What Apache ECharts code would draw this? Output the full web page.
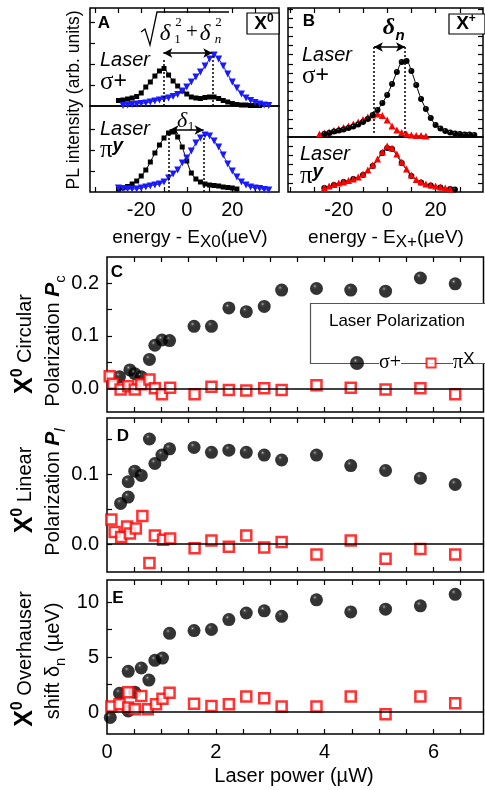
<!DOCTYPE html>
<html>
<head>
<meta charset="utf-8">
<script src="https://cdn.jsdelivr.net/npm/echarts@6.0.0/dist/echarts.min.js"></script>
<style>
  html, body { margin: 0; padding: 0; background: #fff; }
  #main { width: 485px; height: 790px; }
</style>
</head>
<body>
<div id="main"></div>
<script>
// ---- panel A : X0 spectra (arb. units) ----
const aSigX = [-30,-28,-26,-24,-22,-20,-18,-16,-14,-12,-10,-8,-6,-4,-2,0,2,4,6,8,10,12,14,16,18,20,22,24,26,28,30,32]
const aSigBlack = [5.5,6,7,8,9.5,13,19,24,30,35,37.5,31,25,20,15,12,9,8,7.5,8.5,9,9,7.5,5.5,4,2.5,1.5,1,1,0.5,0.5,0.5]
const aSigBlueX = [-28,-26,-24,-22,-20,-18,-16,-14,-12,-10,-8,-6,-4,-2,0,2,4,6,8,10,12,14,16,18,20,22,24,26,28,30,32,34,36]
const aSigBlue = [0.5,1,1.5,2,2.5,3,4,5,6,7,8,9.5,11.5,15,19,24,29,34,40,47,51,47,40,32,24,18,12,8,5.5,3.5,2,1,0.5]
const aPiX = [-30,-28,-26,-24,-22,-20,-18,-16,-14,-12,-10,-8,-6,-4,-2,0,2,4,6,8,10,12,14,16,18,20,22]
const aPiBlack = [3,4,5.5,8,11,16,22,30,39,47,54,59,60,55,45,31,19,13,10,8,7,6.5,6,5,4.5,4,3]
const aPiBlueX = [-30,-28,-26,-24,-22,-20,-18,-16,-14,-12,-10,-8,-6,-4,-2,0,2,4,6,8,10,12,14,16,18,20,22,24,26,28,30,32,34,36]
const aPiBlue = [4,3.5,3,3,3,4,5,6,7,8,10,14,18,22,29,34,41,49,54,57,56,51,45,37,28,21,15,10,7,5,4,3.5,2.5,2]

// ---- panel B : X+ spectra ----
const bSigX = [-26,-24,-22,-20,-18,-16,-14,-12,-10,-8,-6,-4,-2,0,2,4,6,8,10,12,14,16,18,20,22,24,26,28,30,32,34,36]
const bSigBlack = [3,4,5.5,6.5,7.5,9,10.5,12.5,15,18,22,27,34,42,53,65,75,76,66,52,38,28,19,12,8.5,6,4.5,3.5,3,2.5,2.5,2]
const bSigRedX = [-28,-26,-24,-22,-20,-18,-16,-14,-12,-10,-8,-6,-4,-2,0,2,4,6,8,10,12,14,16]
const bSigRed = [3,4,5,6.5,8,9.5,11,13,15,17.5,20,22,23,21.5,17,11,7,4.5,3,2,1.5,1.5,1]
const bPiX = [-26,-24,-22,-20,-18,-16,-14,-12,-10,-8,-6,-4,-2,0,2,4,6,8,10,12,14,16,18,20,22,24,26]
const bPiRed = [4,6,7.5,9,10,11.5,13,15,18,22,27,33,40,46,44,38,30,23,17,12.5,10,8,7,6,5,4,3]
const bPiBlackX = [-26,-22,-18,-14,-10,-6,-2,0,2,6,10,14,18,22,26,28]
const bPiBlack = [4,7,10,13,17,26,39,44,43,29,16,9.5,6.5,4.5,3,2.5]

// ---- panels C, D, E : vs laser power (uW) ----
const sigPowC = [0.23,0.42,0.51,0.63,0.78,0.88,1.01,1.15,1.6,1.92,2.24,2.56,2.89,3.21,3.85,4.48,5.12,5.76,6.4]
const sigPc = [0.022,0.035,0.028,0.022,0.055,0.082,0.092,0.091,0.118,0.118,0.153,0.146,0.156,0.187,0.19,0.187,0.185,0.21,0.199]
const piPowC = [0.05,0.11,0.25,0.39,0.51,0.63,0.78,0.88,1.01,1.16,1.61,1.92,2.24,2.56,2.89,3.21,3.85,4.48,5.12,5.76,6.4]
const piPc = [0.023,0.009,-0.002,0.004,-0.002,0.008,0.017,0.0,-0.011,0.001,-0.011,0.003,-0.003,-0.004,0.0,-0.003,0.006,0.001,-0.002,0.0,-0.011]

const sigPowD = [0.25,0.39,0.39,0.51,0.63,0.78,0.88,1.01,1.15,1.6,1.92,2.24,2.56,2.89,3.21,3.85,4.48,5.12,5.76,6.4]
const sigPl = [0.058,0.067,0.089,0.104,0.098,0.150,0.115,0.127,0.136,0.138,0.131,0.134,0.131,0.127,0.120,0.127,0.112,0.105,0.094,0.085]
const piPowD = [0.08,0.14,0.26,0.37,0.42,0.53,0.65,0.78,0.88,1.03,1.16,1.61,1.92,2.24,2.56,2.89,3.21,3.85,4.48,5.12,5.76,6.4]
const piPl = [0.035,0.017,0.010,0.025,0.015,0.022,0.040,-0.027,0.012,0.006,0.008,-0.006,0.005,-0.004,0.012,-0.005,0.003,-0.015,0.005,-0.021,-0.007,-0.015]

const sigPowE = [0.06,0.23,0.39,0.39,0.51,0.63,0.77,0.88,1.02,1.15,1.6,1.92,2.24,2.56,2.89,3.21,3.85,4.48,5.12,5.76,6.4]
const sigShift = [-0.5,1.7,0.1,3.7,1.8,4.0,2.9,4.7,4.9,7.15,7.4,7.5,8.4,9.0,9.2,8.7,10.2,9.1,9.35,9.65,10.7]
const piPowE = [0.08,0.23,0.39,0.39,0.51,0.63,0.75,0.9,1.02,1.15,1.6,1.92,2.24,2.56,2.89,3.21,3.85,4.48,5.12,5.76,6.4]
const piShift = [0.5,0.7,1.8,0.4,0.25,1.45,0.25,0.7,1.2,1.75,0.75,0.55,0.7,1.4,1.25,0.5,0.5,1.4,-0.2,1.4,0.8]

// tick positions / labels
const specTicks = [-40,-30,-20,-10,0,10,20,30]
const specLabels = [-20,0,20]
const powTicks = [0.5,1,1.5,2,2.5,3,3.5,4,4.5,5,5.5,6,6.5]
const powLabels = [0,2,4,6]
const pcTicks = [0,0.05,0.1,0.15,0.2]
const pcLabels = [0,0.1,0.2]
const plTicks = [0,0.05,0.1,0.15]
const plLabels = [0,0.1]
const shTicks = [0,2.5,5,7.5,10]
const shLabels = [0,5,10]

const SANS = "'Liberation Sans', Arial, sans-serif"
const SERIF = "'Liberation Serif', 'Times New Roman', serif"
const BLUE = '#1a1aff'
const RED = '#ff0000'

// glossy black ball
const sphere = {
  type: 'radial', x: 0.38, y: 0.32, r: 0.6,
  colorStops: [
    { offset: 0, color: '#d8d8d8' },
    { offset: 0.08, color: '#5a5a5a' },
    { offset: 0.22, color: '#111' },
    { offset: 0.45, color: '#000' },
    { offset: 1, color: '#000' }
  ]
}

// grid boxes (px)
const grids = [
  { left: 90, top: 8, width: 189, height: 98 },     // A upper
  { left: 90, top: 106, width: 189, height: 86 },   // A lower
  { left: 288, top: 8, width: 195, height: 129 },   // B upper
  { left: 288, top: 137, width: 195, height: 55 },  // B lower
  { left: 107, top: 257, width: 376.5, height: 155 }, // C
  { left: 107, top: 418, width: 376.5, height: 154 }, // D
  { left: 107, top: 580, width: 376.5, height: 154 }  // E
].map(g => Object.assign({ show: true, borderColor: '#000', borderWidth: 1.5, backgroundColor: 'transparent' }, g))

function ax(gi, min, max, pos, ticks, labels, fmt) {
  return {
    type: 'value', gridIndex: gi, min: min, max: max, position: pos,
    axisLine: { show: false, onZero: false }, splitLine: { show: false },
    axisTick: { show: true, inside: true, length: 5, customValues: ticks, lineStyle: { color: '#000', width: 1.2 } },
    axisLabel: labels ? {
      show: true, customValues: labels, margin: 8, fontSize: 20, color: '#000', fontFamily: SANS,
      formatter: fmt || (v => String(v))
    } : { show: false }
  }
}

const bUpTicks = [9,18,27,37,46,55,64,73,83,92,101,110,119,128]
const bLoTicks = [9,18,28,37,46]

const xAxes = [
  ax(0, -42.5, 40.5, 'top', specTicks),
  ax(1, -42.5, 40.5, 'bottom', specTicks, specLabels),
  ax(2, -41, 39.6, 'top', specTicks),
  ax(3, -41, 39.6, 'bottom', specTicks, specLabels),
  ax(4, 0, 6.92, 'bottom', powTicks),
  ax(5, 0, 6.92, 'bottom', powTicks),
  ax(6, 0, 6.92, 'bottom', powTicks, powLabels),
  ax(4, 0, 6.92, 'top', powTicks),
  ax(5, 0, 6.92, 'top', powTicks),
  ax(6, 0, 6.92, 'top', powTicks)
]
const yAxes = [
  ax(0, 0, 98, 'left', [21,42,63,84]),
  ax(1, 0, 86, 'left', [21,42,63]),
  ax(2, 0, 129, 'left', bUpTicks),
  ax(3, 0, 55, 'left', bLoTicks),
  ax(4, -0.045, 0.25, 'left', pcTicks, pcLabels, v => v.toFixed(1)),
  ax(5, -0.04, 0.18, 'left', plTicks, plLabels, v => v.toFixed(1)),
  ax(6, -2, 12, 'left', shTicks, shLabels),
  ax(2, 0, 129, 'right', bUpTicks),
  ax(3, 0, 55, 'right', bLoTicks)
]

const zip = (xs, ys) => xs.map((x, i) => [x, ys[i]])

function spec(gi, xs, ys, symbol, size, color, opts) {
  return Object.assign({
    type: 'line', xAxisIndex: gi, yAxisIndex: gi, data: zip(xs, ys),
    symbol: symbol, symbolSize: size, smooth: 0.3, silent: true, animation: false,
    lineStyle: { color: color === sphere ? '#000' : color, width: 1 },
    itemStyle: { color: color }
  }, opts || {})
}

const dotted = { type: [2, 2], color: '#000', width: 1.5 }
function guides(lines, arrow) {
  return {
    silent: true, symbol: 'none', label: { show: false }, animation: false,
    lineStyle: dotted,
    data: lines.map(l => [{ coord: [l[0], l[1]] }, { coord: [l[0], l[2]] }]).concat([[
      { coord: [arrow[0], arrow[2]], symbol: 'arrow', symbolSize: [7, 9], lineStyle: { type: 'solid', width: 1.5, color: '#000' } },
      { coord: [arrow[1], arrow[2]], symbol: 'arrow', symbolSize: [7, 9] }
    ]])
  }
}

function pts(gi, xs, ys, isSphere) {
  return {
    type: 'scatter', name: isSphere ? 'σ+' : 'πX', xAxisIndex: gi, yAxisIndex: gi,
    data: zip(xs, ys), animation: false,
    symbol: isSphere ? 'circle' : 'rect',
    symbolSize: isSphere ? 13 : 10,
    itemStyle: isSphere ? { color: sphere } : { color: '#fff', borderColor: RED, borderWidth: 2.5 },
    z: isSphere ? 3 : 4
  }
}
function zeroLine() {
  return { silent: true, symbol: 'none', label: { show: false }, animation: false,
    lineStyle: { type: 'solid', color: '#000', width: 1.6 }, data: [{ yAxis: 0 }] }
}

const series = [
  spec(0, aSigX, aSigBlack, 'rect', 5, '#000', { markLine: guides([[-10.3, 0, 48], [11.2, 0, 51]], [-10.3, 11.2, 53]) }),
  spec(0, aSigBlueX, aSigBlue, 'triangle', 7, BLUE, { symbolRotate: 180 }),
  spec(1, aPiX, aPiBlack, 'rect', 5, '#000', { markLine: guides([[-7.8, 0, 59], [7.6, 0, 57]], [-7.6, 7.4, 62]) }),
  spec(1, aPiBlueX, aPiBlue, 'triangle', 7, BLUE, { symbolRotate: 180 }),
  spec(2, bSigRedX, bSigRed, 'triangle', 7, RED),
  spec(2, bSigX, bSigBlack, 'circle', 6, sphere, { markLine: guides([[-5.5, 4, 90], [7.4, 4, 90]], [-5.5, 7.4, 90]) }),
  spec(3, bPiBlackX, bPiBlack, 'circle', 6, sphere),
  spec(3, bPiX, bPiRed, 'triangle', 7, RED),
  pts(4, sigPowC, sigPc, true),
  Object.assign(pts(4, piPowC, piPc, false), { markLine: zeroLine() }),
  pts(5, sigPowD, sigPl, true),
  Object.assign(pts(5, piPowD, piPl, false), { markLine: zeroLine() }),
  pts(6, sigPowE, sigShift, true),
  Object.assign(pts(6, piPowE, piShift, false), { markLine: zeroLine() })
]

function txt(x, y, text, style, rot) {
  return {
    type: 'text', x: x, y: y, rotation: rot || 0, z: 100, silent: true,
    style: Object.assign({
      text: text, fill: '#000', textAlign: 'center', textVerticalAlign: 'middle',
      align: 'center', verticalAlign: 'middle',
      fontSize: 20, fontFamily: SANS
    }, style || {})
  }
}

const R = Math.PI / 2
const supRich = {
  X: { fontSize: 25, fontWeight: 'bold', fontFamily: SANS, lineHeight: 30, verticalAlign: 'middle' },
  s: { fontSize: 16, fontWeight: 'bold', fontFamily: SANS, lineHeight: 16, verticalAlign: 'top' },
  n: { fontSize: 20, fontFamily: SANS, lineHeight: 30, verticalAlign: 'middle' },
  P: { fontSize: 21, fontWeight: 'bold', fontStyle: 'italic', fontFamily: SANS, lineHeight: 30, verticalAlign: 'middle' },
  sub: { fontSize: 15, fontFamily: SANS, lineHeight: 15, verticalAlign: 'bottom' },
  subi: { fontSize: 15, fontStyle: 'italic', fontFamily: SANS, lineHeight: 15, verticalAlign: 'bottom' },
  d: { fontSize: 20, fontFamily: SANS, lineHeight: 30, verticalAlign: 'middle' }
}

const laserRich = {
  s: { fontSize: 25, fontFamily: SERIF, lineHeight: 28 },
  p: { fontSize: 23, fontFamily: SANS, lineHeight: 28 },
  y: { fontSize: 19, fontFamily: SANS, fontWeight: 'bold', fontStyle: 'italic', lineHeight: 19, verticalAlign: 'top' }
}

const graphic = [
  // legend box of panel C
  { type: 'rect', z: 50, silent: true, shape: { x: 310.5, y: 303.5, width: 180, height: 60 }, style: { fill: '#fff', stroke: '#555', lineWidth: 1.2 } },
  txt(397, 321, 'Laser Polarization', { fontSize: 17 }),

  // y titles
  txt(74, 100, 'PL intensity (arb. units)', { fontSize: 17.5 }, R),
  txt(25, 344, '{X|X}{s|0}{n| Circular}', { rich: supRich }, R),
  txt(53, 341, '{n|Polarization }{P|P}{sub|c}', { rich: supRich }, R),
  txt(25, 490, '{X|X}{s|0}{n| Linear}', { rich: supRich }, R),
  txt(53, 492, '{n|Polarization }{P|P}{subi|l}', { rich: supRich }, R),
  txt(25, 659, '{X|X}{s|0}{n| Overhauser}', { rich: supRich }, R),
  txt(53, 661, '{n|shift δ}{sub|n}{d| (µeV)}', { rich: supRich }, R),

  // x titles
  txt(190, 238, '{n|energy - E}{sub|X0}{n|(µeV)}', { rich: { n: { fontSize: 19, fontFamily: SANS, lineHeight: 26 }, sub: { fontSize: 17, fontFamily: SANS, lineHeight: 17, verticalAlign: 'bottom' } } }),
  txt(386, 238, '{n|energy - E}{sub|X+}{n|(µeV)}', { rich: { n: { fontSize: 19, fontFamily: SANS, lineHeight: 26 }, sub: { fontSize: 17, fontFamily: SANS, lineHeight: 17, verticalAlign: 'bottom' } } }),
  txt(294, 776, 'Laser power (µW)', { fontSize: 20 }),

  // panel letters
  txt(104, 23, 'A', { fontSize: 17, fontWeight: 'bold' }),
  txt(309, 21, 'B', { fontSize: 17, fontWeight: 'bold' }),
  txt(117, 272, 'C', { fontSize: 17, fontWeight: 'bold' }),
  txt(123, 436, 'D', { fontSize: 17, fontWeight: 'bold' }),
  txt(118, 598, 'E', { fontSize: 17, fontWeight: 'bold' }),

  // exciton boxes
  { type: 'rect', z: 90, silent: true, shape: { x: 247, y: 13, width: 32, height: 21 }, style: { fill: '#fff', stroke: '#000', lineWidth: 1.2 } },
  txt(264, 24, '{X|X}{s|0}', { rich: { X: { fontSize: 19, fontWeight: 'bold', fontFamily: SANS, lineHeight: 22 }, s: { fontSize: 12, fontWeight: 'bold', fontFamily: SANS, lineHeight: 12, verticalAlign: 'top' } } }),
  { type: 'rect', z: 90, silent: true, shape: { x: 449, y: 14, width: 36, height: 20 }, style: { fill: '#fff', stroke: '#000', lineWidth: 1.2 } },
  txt(466, 24, '{X|X}{s|+}', { rich: { X: { fontSize: 19, fontWeight: 'bold', fontFamily: SANS, lineHeight: 22 }, s: { fontSize: 12, fontWeight: 'bold', fontFamily: SANS, lineHeight: 12, verticalAlign: 'top' } } }),

  // Laser σ+ / π^y labels
  txt(100, 60, 'Laser', { fontSize: 20, fontStyle: 'italic', textAlign: 'left', align: 'left' }),
  txt(100, 82, '{s|σ}{p|+}', { rich: laserRich, textAlign: 'left', align: 'left' }),
  txt(100, 129, 'Laser', { fontSize: 20, fontStyle: 'italic', textAlign: 'left', align: 'left' }),
  txt(100, 150, '{s|π}{y|y}', { rich: laserRich, textAlign: 'left', align: 'left' }),
  txt(302, 55, 'Laser', { fontSize: 20, fontStyle: 'italic', textAlign: 'left', align: 'left' }),
  txt(302, 76, '{s|σ}{p|+}', { rich: laserRich, textAlign: 'left', align: 'left' }),
  txt(300, 154, 'Laser', { fontSize: 20, fontStyle: 'italic', textAlign: 'left', align: 'left' }),
  txt(300, 176, '{s|π}{y|y}', { rich: laserRich, textAlign: 'left', align: 'left' }),

  // sqrt(δ1² + δn²)
  { type: 'polyline', z: 100, silent: true, shape: { points: [[141, 32], [145, 29], [150, 45], [157, 12], [229, 12]] }, style: { stroke: '#000', lineWidth: 1.3, fill: null } },
  txt(165, 34, 'δ', { fontSize: 23, fontStyle: 'italic', fontFamily: SERIF }),
  txt(178.5, 23, '2', { fontSize: 13, fontFamily: SERIF }),
  txt(177.5, 40, '1', { fontSize: 13, fontFamily: SERIF }),
  txt(192, 32, '+', { fontSize: 21, fontFamily: SERIF }),
  txt(205, 34, 'δ', { fontSize: 23, fontStyle: 'italic', fontFamily: SERIF }),
  txt(218.5, 23, '2', { fontSize: 13, fontFamily: SERIF }),
  txt(218, 40, 'n', { fontSize: 13, fontStyle: 'italic', fontFamily: SERIF }),
  // δ1 label
  txt(182, 121, 'δ', { fontSize: 22, fontStyle: 'italic', fontFamily: SERIF }),
  txt(191, 127, '1', { fontSize: 13, fontFamily: SERIF }),
  // δn label
  txt(389, 28, 'δ', { fontSize: 24, fontStyle: 'italic', fontWeight: 'bold', fontFamily: SERIF }),
  txt(400, 36, 'n', { fontSize: 15, fontStyle: 'italic', fontWeight: 'bold', fontFamily: SANS })
]

const option = {
  backgroundColor: '#fff',
  animation: false,
  grid: grids,
  xAxis: xAxes,
  yAxis: yAxes,
  legend: {
    left: 345, top: 346, itemWidth: 14, itemHeight: 14, itemGap: 22, z: 60,
    selectedMode: false,
    data: [
      { name: 'σ+', icon: 'circle' },
      { name: 'πX', icon: 'path://M0,0M14,14M2.5,2.5L11.5,2.5L11.5,11.5L2.5,11.5Z' }
    ],
    formatter: name => name === 'πX' ? '{p|π}{s|X}' : '{p|σ+}',
    textStyle: {
      padding: [0, 0, 0, 10],
      rich: {
        p: { fontSize: 20, fontFamily: SERIF, color: '#000', lineHeight: 24, backgroundColor: '#fff' },
        s: { fontSize: 17, fontFamily: SANS, color: '#000', lineHeight: 17, verticalAlign: 'top' }
      }
    }
  },
  graphic: graphic,
  series: series
}

const chart = echarts.init(document.getElementById('main'))
chart.setOption(option)
</script>
</body>
</html>
